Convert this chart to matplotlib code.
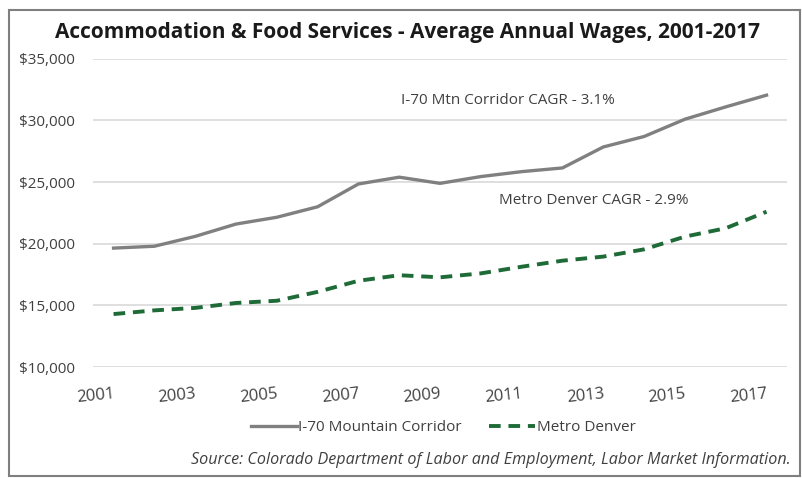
import matplotlib.pyplot as plt
from matplotlib.patches import Rectangle
from matplotlib.ticker import FuncFormatter

plt.rcParams['font.family'] = ['Open Sans', 'DejaVu Sans']

#data
years = list(range(2001, 2018))
i70_wages = [19650, 19800, 20600, 21600, 22150, 23000, 24850, 25400, 24900,
             25450, 25850, 26150, 27850, 28700, 30100, 31100, 32050]
denver_wages = [14300, 14600, 14800, 15200, 15380, 16100, 17000, 17450, 17280,
                17600, 18140, 18630, 18960, 19550, 20580, 21260, 22600]
tick_years = years[::2]

fig = plt.figure(figsize=(8.03, 4.78), dpi=100)
ax = fig.add_axes([0.116, 0.232, 0.864, 0.645])

ax.plot(years, i70_wages, color='#808080', lw=2.4, label='I-70 Mountain Corridor')
ax.plot(years, denver_wages, color='#1f6b38', lw=2.8, ls=(0, (3, 2)), label='Metro Denver')

ax.set_xlim(2000.5, 2017.5)
ax.set_ylim(10000, 35000)
ax.set_yticks(range(10000, 35001, 5000))
ax.yaxis.set_major_formatter(FuncFormatter(lambda v, p: '${:,.0f}'.format(v)))
ax.set_xticks(tick_years)
ax.set_xticklabels([str(y) for y in tick_years], rotation=6, ha='right',
                   rotation_mode='anchor')
ax.grid(axis='y', color='#d9d9d9', lw=1.2)
ax.set_axisbelow(True)
for s in ax.spines.values():
    s.set_visible(False)
ax.tick_params(length=0, labelcolor='#404040')
ax.tick_params(axis='y', pad=13, labelsize=11)
ax.tick_params(axis='x', pad=14, labelsize=12)

#CAGR notes
ax.text(2008.05, 31350, 'I-70 Mtn Corridor CAGR - 3.1%', fontsize=11, color='#404040')
ax.text(2010.45, 23250, 'Metro Denver CAGR - 2.9%', fontsize=11, color='#404040')

fig.suptitle('Accommodation & Food Services - Average Annual Wages, 2001-2017',
             x=0.508, y=0.955, fontsize=15, fontweight='bold', color='#1a1a1a')

fig.legend(loc='center', bbox_to_anchor=(0.552, 0.105), ncol=2, frameon=False,
           fontsize=11, handlelength=3.0, handletextpad=0.1, columnspacing=1.8,
           labelcolor='#404040')

fig.text(0.985, 0.03,
         'Source: Colorado Department of Labor and Employment, Labor Market Information.',
         ha='right', fontsize=11.6, style='italic', color='#404040')

#frame around the whole picture
fig.patches.append(Rectangle((0.011, 0.005), 0.985, 0.975, transform=fig.transFigure,
                             fill=False, ec='#7f7f7f', lw=1.5))

fig.savefig('out.png', dpi=100)
